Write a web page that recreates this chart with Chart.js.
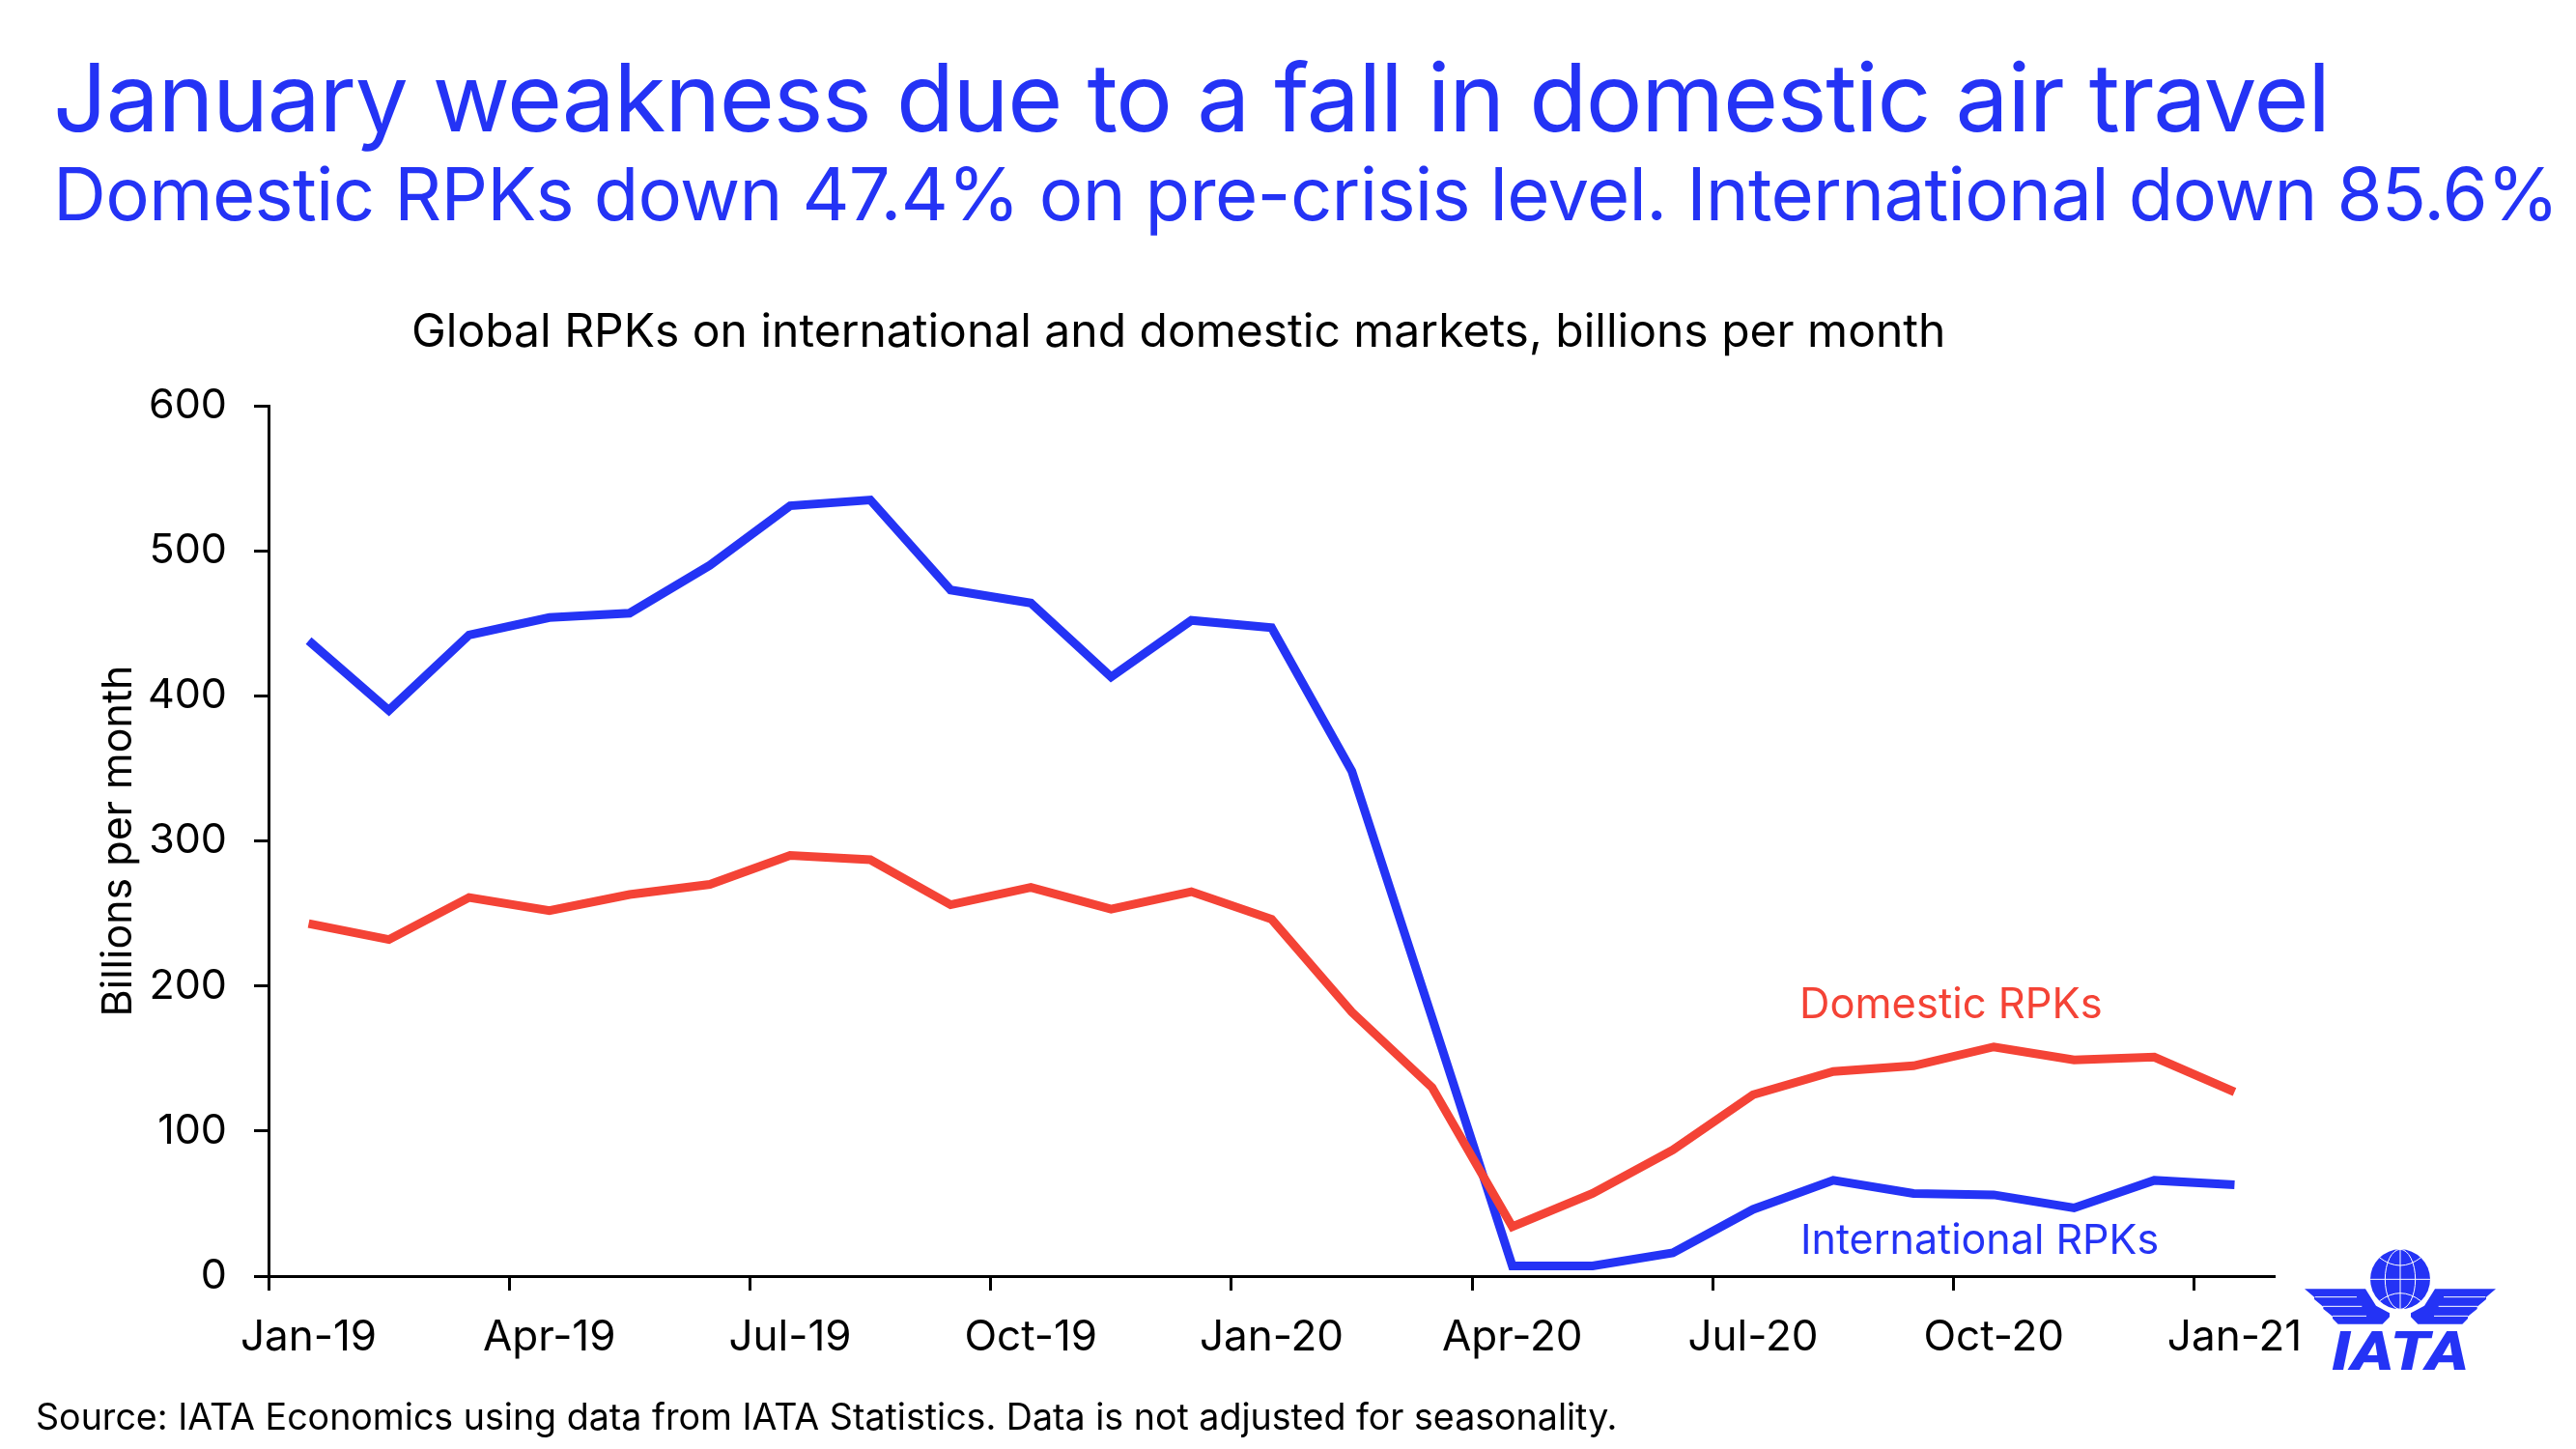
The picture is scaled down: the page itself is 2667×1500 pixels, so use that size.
<!DOCTYPE html>
<html>
<head>
<meta charset="utf-8">
<script src="https://cdn.jsdelivr.net/npm/chart.js@4/dist/chart.umd.min.js"></script>
<style>
  html, body { margin: 0; padding: 0; background: #fff; }
  body { position: relative; width: 2667px; height: 1500px; overflow: hidden; font-family: Inter, sans-serif; }
  #chart { position: absolute; left: 0; top: 0; }
  .txt { position: absolute; white-space: nowrap; line-height: 1; }
  .blue { color: #2433f5; }
  .red { color: #f44336; }
  #logo { position: absolute; left: 2300px; top: 1230px; }
</style>
</head>
<body>
<canvas id="chart" width="2667" height="1500"></canvas>

<div class="txt blue" style="left:55px; top:52px; font-size:98px; letter-spacing:-1.26px;">January weakness due to a fall in domestic air travel</div>
<div class="txt blue" style="left:55px; top:162px; font-size:76px; letter-spacing:-0.7px;">Domestic RPKs down 47.4% on pre-crisis level. International down 85.6%</div>
<div class="txt" style="left:426px; top:318px; font-size:48px;">Global RPKs on international and domestic markets, billions per month</div>
<div class="txt red" style="left:1863px; top:1017px; font-size:43.5px;">Domestic RPKs</div>
<div class="txt blue" style="left:1864px; top:1261px; font-size:43px;">International RPKs</div>
<div class="txt" style="left:37px; top:1448px; font-size:37.6px;">Source: IATA Economics using data from IATA Statistics. Data is not adjusted for seasonality.</div>

<svg id="logo" width="367" height="270" viewBox="0 0 1101 810">
  <g fill="#2433f5">
    <circle cx="555" cy="283" r="93"/>
    <polygon points="258,313 447,313 480,365 522,388 522,400 500,422 362,422 345,405 345,398 316,375 316,368 288,345 288,338"/>
    <polygon points="852,313 663,313 630,365 588,388 588,400 610,422 748,422 765,405 765,398 794,375 794,368 822,345 822,338"/>
  </g>
  <g stroke="#fff" stroke-width="3" fill="none">
    <path d="M555 190V376M462 283H648"/>
    <ellipse cx="555" cy="283" rx="47" ry="93"/>
    <path d="M490 215Q555 265 620 215M490 351Q555 301 620 351"/>
    <path d="M290 338H420M315 367H436M345 397H450M820 338H690M795 367H674M765 397H660"/>
  </g>
  <text x="342" y="563" textLength="426" lengthAdjust="spacingAndGlyphs" font-family="Roboto" font-weight="900" font-style="italic" font-size="166" fill="#2433f5">IATA</text>
</svg>

<script>
const months = ["Jan-19","Feb-19","Mar-19","Apr-19","May-19","Jun-19","Jul-19","Aug-19","Sep-19","Oct-19","Nov-19","Dec-19",
  "Jan-20","Feb-20","Mar-20","Apr-20","May-20","Jun-20","Jul-20","Aug-20","Sep-20","Oct-20","Nov-20","Dec-20","Jan-21"];
const domestic = [243,232,261,252,263,270,290,287,256,268,253,265,246,182,130,34,57,87,125,141,145,158,149,151,127];
const international = [438,390,442,454,457,490,531,535,473,464,413,452,447,348,178,7,7,16,46,66,57,56,47,66,63];
const yTicks = [0,100,200,300,400,500,600];

const black = "#000";

new Chart(document.getElementById("chart"), {
  type: "line",
  data: {
    labels: months,
    datasets: [
      { label: "Domestic RPKs", data: domestic, borderColor: "#f44336", borderWidth: 9, pointRadius: 0, tension: 0 },
      { label: "International RPKs", data: international, borderColor: "#2433f5", borderWidth: 9, pointRadius: 0, tension: 0 }
    ]
  },
  options: {
    responsive: false,
    animation: false,
    layout: { padding: { left: 97, top: 420, right: 312, bottom: 79 } },
    plugins: { legend: { display: false }, tooltip: { enabled: false } },
    scales: {
      x: {
        offset: true,
        afterFit: s => { s.height = 100; },
        border: { color: black, width: 3 },
        grid: {
          offset: true,
          drawOnChartArea: false,
          tickLength: 15,
          tickWidth: 3,
          tickColor: ctx => (ctx.index % 3 === 0 ? black : "transparent")
        },
        ticks: {
          color: black,
          font: { family: "Inter", size: 44 },
          padding: 22,
          autoSkip: false,
          maxRotation: 0,
          callback: (v, i) => (i % 3 === 0 ? months[i] : "")
        }
      },
      y: {
        min: 0,
        max: 600,
        afterFit: s => { s.width = 181; },
        afterBuildTicks: s => { s.ticks = yTicks.map(value => ({ value })); },
        border: { color: black, width: 3 },
        grid: { drawOnChartArea: false, tickLength: 15, tickWidth: 3, tickColor: black },
        ticks: { color: black, font: { family: "Inter", size: 43 }, padding: 28 },
        title: { display: true, text: "Billions per month", color: black, font: { family: "Inter", size: 43 }, padding: { top: 0, bottom: 0 } }
      }
    }
  }
});
</script>
</body>
</html>
